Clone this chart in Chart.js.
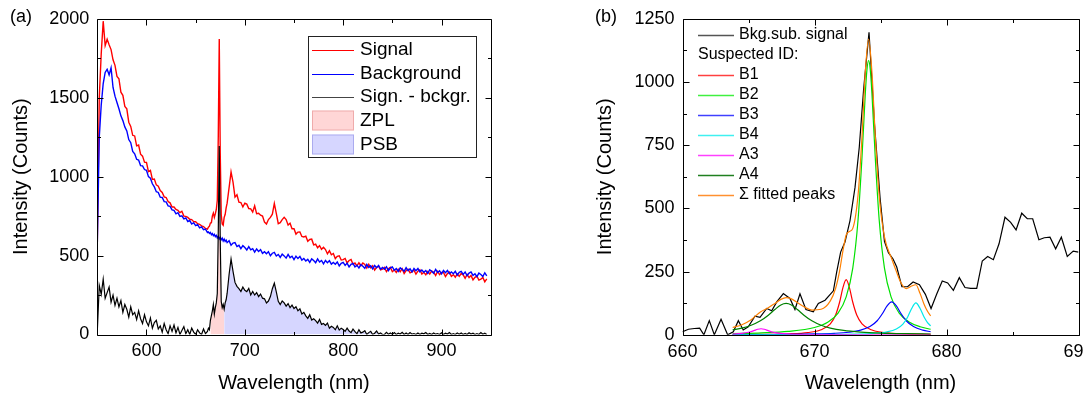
<!DOCTYPE html>
<html>
<head>
<meta charset="utf-8">
<script src="https://cdn.jsdelivr.net/npm/chart.js@4.4.1/dist/chart.umd.min.js"></script>
<style>
  html, body { margin: 0; padding: 0; overflow: hidden; background: #fff; }
  #wrap { position: relative; width: 1100px; height: 398px; }
  #chartA { position: absolute; left: 0; top: 0; }
  #chartB { position: absolute; left: 540px; top: 0; }
</style>
</head>
<body>
<div id="wrap">
  <canvas id="chartA" width="540" height="398"></canvas>
  <canvas id="chartB" width="560" height="398"></canvas>
</div>
<script>
// ---- panel (a): full spectra ----
const wavelengthA = [
  550, 552, 554, 556, 558, 560, 562, 564, 566, 568,
  570, 572, 574, 576, 578, 580, 582, 584, 586, 588,
  590, 592, 594, 596, 598, 600, 602, 604, 606, 608,
  610, 612, 614, 616, 618, 620, 622, 624, 626, 628,
  630, 632, 634, 636, 638, 640, 642, 644, 646, 648,
  650, 652, 654, 656, 658, 660, 662,
  663, 664, 665, 666, 667, 668, 669, 670, 671, 672,
  673, 674, 675, 676, 677, 678, 679, 680, 681,
  682, 684, 686, 688, 690, 692, 694, 696, 698, 700,
  702, 704, 706, 708, 710, 712, 714, 716, 718, 720,
  722, 724, 726, 728, 730, 732, 734, 736, 738, 740,
  742, 744, 746, 748, 750, 752, 754, 756, 758, 760,
  762, 764, 766, 768, 770, 772, 774, 776, 778, 780,
  782, 784, 786, 788, 790, 792, 794, 796, 798, 800,
  802, 804, 806, 808, 810, 812, 814, 816, 818, 820,
  822, 824, 826, 828, 830, 832, 834, 836, 838, 840,
  842, 844, 846, 848, 850, 852, 854, 856, 858, 860,
  862, 864, 866, 868, 870, 872, 874, 876, 878, 880,
  882, 884, 886, 888, 890, 892, 894, 896, 898, 900,
  902, 904, 906, 908, 910, 912, 914, 916, 918, 920,
  922, 924, 926, 928, 930, 932, 934, 936, 938, 940,
  942, 944, 946
];
const signalA = [
  570, 1500, 1780, 1985, 1830, 1870, 1835, 1805, 1740, 1705,
  1635, 1620, 1535, 1515, 1445, 1430, 1345, 1318, 1262, 1258,
  1195, 1200, 1142, 1130, 1092, 1090, 1032, 1040, 982, 985,
  948, 940, 912, 900, 872, 868, 842, 834, 808, 808,
  792, 786, 772, 781, 750, 748, 742, 730, 728, 715,
  714, 702, 698, 688, 684, 672, 668,
  680, 686, 706, 708, 752, 770, 742, 765, 792, 850,
  1250, 1872, 1150, 760, 700, 692, 742, 760, 802,
  832, 930, 1030, 965, 870, 885, 838, 836, 808, 832,
  826, 798, 796, 776, 815, 766, 768, 756, 750, 712,
  700, 728, 742, 762, 830, 768, 702, 708, 728, 742,
  728, 693, 705, 670, 670, 636, 649, 650, 621, 618,
  623, 590, 602, 604, 568, 572, 549, 563, 540, 552,
  538, 511, 531, 505, 513, 481, 495, 499, 472, 474,
  482, 453, 469, 475, 445, 453, 435, 454, 436, 453,
  444, 421, 445, 423, 436, 408, 426, 433, 409, 414,
  425, 398, 416, 425, 398, 409, 393, 414, 398, 417,
  386, 405, 413, 390, 396, 408, 382, 401, 410, 383,
  394, 378, 399, 383, 402, 395, 374, 400, 379, 393,
  393, 367, 386, 395, 368, 379, 363, 384, 368, 386,
  378, 356, 381, 361, 374, 346, 362, 369, 345, 350,
  361, 334, 352
];
const backgroundA = [
  570, 1250, 1455, 1590, 1660, 1680, 1645, 1690, 1565, 1510,
  1470, 1430, 1385, 1355, 1315, 1290, 1235, 1215, 1160, 1145,
  1110, 1105, 1070, 1068, 1045, 1040, 1000, 990, 955, 935,
  905, 900, 870, 868, 842, 840, 815, 812, 790, 786,
  765, 772, 748, 752, 732, 738, 716, 722, 700, 708,
  690, 696, 676, 682, 664, 668, 646,
  650, 640, 646, 632, 640, 626, 634, 620, 628, 612,
  622, 606, 616, 600, 610, 592, 604, 590, 598,
  582, 594, 565, 579, 582, 557, 565, 544, 563, 551,
  535, 557, 536, 544, 522, 542, 526, 538, 514, 524,
  511, 525, 499, 515, 520, 497, 507, 488, 509, 498,
  484, 507, 487, 496, 475, 496, 481, 494, 471, 481,
  466, 476, 457, 479, 469, 455, 479, 459, 469, 448,
  469, 455, 468, 446, 456, 445, 459, 435, 451, 457,
  438, 452, 428, 445, 451, 428, 439, 421, 443, 433,
  420, 444, 425, 435, 415, 437, 423, 437, 414, 425,
  414, 429, 405, 422, 428, 407, 418, 400, 422, 413,
  400, 424, 405, 416, 396, 418, 404, 418, 397, 408,
  394, 405, 387, 410, 401, 388, 412, 393, 404, 384,
  406, 392, 406, 385, 396, 385, 400, 376, 394, 400,
  381, 396, 372, 389, 396, 374, 385, 367, 389, 380,
  367, 391, 372
];
const differenceA = [
  20, 310, 255, 350, 230, 265, 300, 205, 250, 185,
  230, 175, 215, 140, 190, 160, 110, 175, 125, 140,
  95, 150, 100, 70, 125, 80, 55, 105, 40, 75,
  90, 35, 55, 15, 70, 30, 5, 55, 20, 60,
  10, 45, 0, 25, 50, 5, 30, 0, 40, 15,
  0, 30, 10, 0, 35, 5, 20,
  40, 30, 90, 120, 150, 190, 130, 170, 200, 260,
  650, 1194, 600, 210, 170, 190, 160, 200, 220,
  260, 380, 478, 400, 330, 305, 290, 272, 300, 280,
  272, 292, 250, 272, 250, 266, 240, 256, 230, 226,
  200, 212, 240, 290, 325, 270, 210, 190, 212, 200,
  180, 196, 170, 186, 165, 176, 150, 162, 130, 140,
  118, 102, 125, 92, 100, 88, 72, 95, 64, 70,
  58, 72, 40, 52, 45, 30, 55, 28, 40, 32,
  20, 40, 22, 12, 34, 18, 5, 30, 10, 15,
  24, 0, 12, 20, 0, 8, 22, 3, 10, 0,
  0, 14, 2, 10, 0, 12, 0, 8, 3, 14,
  0, 9, 0, 12, 2, 6, 0, 10, 0, 8,
  4, 12, 0, 7, 0, 10, 2, 6, 0, 11,
  0, 8, 3, 12, 0, 6, 0, 9, 2, 10,
  0, 7, 0, 11, 3, 8, 0, 6, 0, 12,
  2, 8, 0
];
const zplRange = [665, 679];
const psbRange = [679, 840];
const xTicksA = [600, 700, 800, 900];
const xMinorA = [650, 750, 850];
const yTicksA = [0, 500, 1000, 1500, 2000];
const yMinorA = [250, 750, 1250, 1750];

// ---- panel (b): zoom on the ZPL with fitted peaks ----
const wavelengthB = [
  660.00, 660.45, 660.90, 661.30, 661.62, 662.03, 662.41, 662.92, 663.42, 663.85,
  664.23, 664.60, 664.98, 665.49, 665.87, 666.38, 666.76, 667.14, 667.64, 668.14,
  668.52, 668.90, 669.35, 669.91, 670.29, 670.80, 671.43, 671.68, 671.98, 672.31,
  672.69, 673.07, 673.39, 673.72, 674.13, 674.55, 674.97, 675.30, 675.60, 675.95,
  676.23, 676.62, 677.05, 677.47, 677.95, 678.40, 678.83, 679.26, 679.68, 680.09,
  680.52, 680.97, 681.40, 681.83, 682.29, 682.71, 683.12, 683.55, 683.98, 684.43,
  684.86, 685.27, 685.70, 686.12, 686.53, 687.00, 687.41, 687.84, 688.27, 688.70,
  689.15, 689.60, 690.00
];
const bkgSubB = [
  12, 22, 25, 26, 0, 56, 0, 61, 0, 12,
  56, 19, 32, 74, 69, 104, 95, 130, 163, 144,
  100, 162, 100, 91, 124, 137, 174, 248, 327, 367,
  452, 583, 741, 970, 1197, 830, 540, 370, 325, 300,
  268, 190, 190, 209, 198, 160, 104, 161, 213, 205,
  176, 226, 187, 184, 184, 292, 310, 297, 360, 465,
  445, 415, 481, 459, 459, 376, 384, 386, 340, 386,
  310, 331, 327
];
const b1X = [663.8, 666, 668, 669.5, 670.5, 671.2, 671.6, 671.9, 672.15, 672.4, 672.65, 672.9, 673.2, 673.6, 674.3, 675.3, 676.8, 678.8];
const b1Y = [1.1, 1.9, 4.0, 8.9, 19.8, 43.6, 78.5, 128.7, 185.7, 218, 185.7, 128.7, 78.5, 43.6, 19.8, 8.9, 4.0, 1.9];
const b2X = [663.8, 666, 668, 670, 671, 671.8, 672.4, 672.9, 673.3, 673.6, 673.85, 673.98, 674.1, 674.22, 674.35, 674.6, 674.9, 675.3, 675.8, 676.4, 677.2, 678, 678.8];
const b2Y = [4.7, 7.6, 13.3, 29, 49.8, 87, 150, 264, 455, 704, 956, 1052, 1085, 1052, 956, 704, 455, 264, 150, 87, 50, 32, 22];
const b3X = [663.8, 666, 668, 670, 671.5, 672.6, 673.5, 674.2, 674.75, 675.15, 675.5, 675.85, 676.2, 676.55, 676.95, 677.5, 678.2, 678.8];
const b3Y = [0.8, 1.2, 1.9, 3.3, 5.9, 10.2, 18.3, 32.4, 55.6, 84.2, 114.4, 130, 114.4, 84.2, 55.6, 32.4, 18.3, 12.2];
const b4X = [663.8, 668, 671, 673, 674.5, 675.5, 676.2, 676.7, 677.05, 677.35, 677.68, 678.0, 678.3, 678.55, 678.8];
const b4Y = [0.3, 0.7, 1.4, 2.8, 5.8, 11.8, 23, 42.6, 69.6, 103, 126, 104, 70.6, 49.5, 35.4];
const a3X = [663.8, 664.5, 665.0, 665.4, 665.7, 665.95, 666.2, 666.5, 666.9, 667.4, 668.5, 671, 675, 678.8];
const a3Y = [2.9, 5.6, 10, 16.3, 21.9, 24, 21.9, 16.3, 10, 5.6, 2.1, 0.6, 0.2, 0.1];
const a4X = [663.8, 664.5, 665.2, 665.9, 666.5, 667.0, 667.45, 667.85, 668.25, 668.7, 669.2, 669.8, 670.5, 671.2, 672.2, 673.5, 675, 677, 678.8];
const a4Y = [19.5, 26.6, 37.7, 55.3, 77.7, 100.3, 117.9, 124, 117.9, 100.3, 77.7, 55.3, 37.7, 26.6, 17.3, 10.9, 7, 4.4, 3.1];
const sumX = [663.8, 664.5, 665.2, 665.9, 666.5, 667.0, 667.45, 667.85, 668.25, 668.7, 669.2, 669.8, 670.5, 671.2, 671.6, 671.9, 672.15, 672.4, 672.65, 672.9, 673.3, 673.6, 673.85, 674.1, 674.35, 674.6, 674.9, 675.3, 675.85, 676.2, 676.55, 676.95, 677.35, 677.68, 678.0, 678.3, 678.55, 678.8];
const sumY = [29, 40, 60, 90, 107, 124, 140, 147, 142, 128, 111, 98, 101, 134, 184, 252, 331, 395, 409, 421, 553, 785, 1040, 1170, 1040, 790, 550, 387, 301, 251, 206, 183, 193, 198, 163, 121, 94, 75];
const xTicksB = [660, 670, 680, 690];
const xMinorB = [665, 675, 685];
const yTicksB = [0, 250, 500, 750, 1000, 1250];
const yMinorB = [125, 375, 625, 875, 1125];

const FONT = "'Liberation Sans', Arial, Helvetica, sans-serif";
Chart.defaults.font.family = FONT;
Chart.defaults.color = '#000';

const pts = (xs, ys) => xs.map((x, i) => ({ x: x, y: ys[i] }));
const band = (xs, ys, r) => pts(xs, ys).filter(p => p.x >= r[0] && p.x <= r[1]);

// frame with inward ticks on all sides, legend and panel letter
const framePlugin = {
  id: 'frame',
  afterDraw(chart, args, o) {
    const { ctx, chartArea: a } = chart;
    const x = chart.scales.x, y = chart.scales.y;
    const L = Math.round(a.left) + 0.5, R = Math.round(a.right) + 0.5;
    const T = Math.round(a.top) + 0.5, B = Math.round(a.bottom) + 0.5;
    ctx.save();
    ctx.strokeStyle = '#000';
    ctx.lineWidth = 1;
    ctx.beginPath();
    ctx.rect(L, T, R - L, B - T);
    const xt = (vals, len) => vals.forEach(v => {
      const p = Math.round(x.getPixelForValue(v)) + 0.5;
      ctx.moveTo(p, B); ctx.lineTo(p, B - len);
      ctx.moveTo(p, T); ctx.lineTo(p, T + len);
    });
    const yt = (vals, len) => vals.forEach(v => {
      const p = Math.round(y.getPixelForValue(v)) + 0.5;
      ctx.moveTo(L, p); ctx.lineTo(L + len, p);
      ctx.moveTo(R, p); ctx.lineTo(R - len, p);
    });
    xt(o.xMajor, 6); xt(o.xMinor, 3.5);
    yt(o.yMajor, 6); yt(o.yMinor, 3.5);
    ctx.stroke();

    // panel letter
    ctx.fillStyle = '#000';
    ctx.font = '18px ' + FONT;
    ctx.textAlign = 'left';
    ctx.textBaseline = 'middle';
    ctx.fillText(o.label, o.labelX, 17);

    // legend
    const lg = o.legend;
    if (lg.box) {
      ctx.fillStyle = '#fff';
      ctx.fillRect(lg.box[0], lg.box[1], lg.box[2], lg.box[3]);
      ctx.strokeStyle = '#222';
      ctx.lineWidth = 1;
      ctx.strokeRect(lg.box[0] + 0.5, lg.box[1] + 0.5, lg.box[2], lg.box[3]);
    }
    ctx.font = lg.size + 'px ' + FONT;
    lg.items.forEach(it => {
      if (it.kind === 'line') {
        ctx.strokeStyle = it.color;
        ctx.lineWidth = lg.lineWidth;
        ctx.beginPath();
        ctx.moveTo(lg.x0, Math.round(it.y) + 0.5);
        ctx.lineTo(lg.x1, Math.round(it.y) + 0.5);
        ctx.stroke();
      } else if (it.kind === 'box') {
        ctx.fillStyle = it.fill;
        ctx.fillRect(lg.x0, it.y - 10, lg.x1 - lg.x0, 20);
        ctx.strokeStyle = it.stroke;
        ctx.lineWidth = 1;
        ctx.strokeRect(lg.x0 + 0.5, it.y - 10 + 0.5, lg.x1 - lg.x0 - 1, 19);
      }
      ctx.fillStyle = '#000';
      ctx.fillText(it.text, it.kind === 'text' ? lg.x0 : lg.tx, it.y);
    });
    ctx.restore();
  }
};

function axes(cfg) {
  return {
    x: {
      type: 'linear', min: cfg.xMin, max: cfg.xMax,
      grid: { display: false, drawTicks: false }, border: { display: false },
      afterBuildTicks: s => { s.ticks = cfg.xTicks.map(v => ({ value: v })); },
      afterFit: s => { s.height = cfg.xHeight; },
      ticks: { padding: 6, font: { size: 18 }, color: '#000', maxRotation: 0, autoSkip: false, callback: v => String(v) },
      title: { display: true, text: 'Wavelength (nm)', font: { size: 20 }, color: '#000', padding: { top: 0, bottom: 3 } }
    },
    y: {
      type: 'linear', min: cfg.yMin, max: cfg.yMax,
      grid: { display: false, drawTicks: false }, border: { display: false },
      afterBuildTicks: s => { s.ticks = cfg.yTicks.map(v => ({ value: v })); },
      afterFit: s => { s.width = cfg.yWidth; },
      ticks: { padding: 8, font: { size: 18 }, color: '#000', autoSkip: false, callback: v => String(v) },
      title: { display: true, text: 'Intensity (Counts)', font: { size: 20 }, color: '#000', padding: { top: cfg.yTitlePad, bottom: 0 } }
    }
  };
}

const common = { responsive: false, animation: false, devicePixelRatio: 1, events: [] };

new Chart(document.getElementById('chartA'), {
  type: 'line',
  data: {
    datasets: [
      { label: 'Sign. - bckgr.', data: pts(wavelengthA, differenceA), borderColor: '#000', borderWidth: 1.2, pointRadius: 0, fill: false, order: 1 },
      { label: 'Background', data: pts(wavelengthA, backgroundA), borderColor: '#0000ff', borderWidth: 1.4, pointRadius: 0, fill: false, order: 2 },
      { label: 'Signal', data: pts(wavelengthA, signalA), borderColor: '#ff0000', borderWidth: 1.4, pointRadius: 0, fill: false, order: 3 },
      { label: 'ZPL', data: band(wavelengthA, differenceA, zplRange), borderWidth: 0, borderColor: 'rgba(0,0,0,0)', backgroundColor: 'rgba(255,0,0,0.16)', pointRadius: 0, fill: 'origin', order: 4 },
      { label: 'PSB', data: band(wavelengthA, differenceA, psbRange), borderWidth: 0, borderColor: 'rgba(0,0,0,0)', backgroundColor: 'rgba(0,0,255,0.16)', pointRadius: 0, fill: 'origin', order: 5 }
    ]
  },
  options: Object.assign({}, common, {
    layout: { padding: { left: 0, top: 17, right: 49.3, bottom: 0 } },
    plugins: {
      legend: { display: false }, tooltip: { enabled: false },
      frame: {
        xMajor: xTicksA, xMinor: xMinorA, yMajor: yTicksA, yMinor: yMinorA,
        label: '(a)', labelX: 10,
        legend: {
          box: [308, 36, 168, 121], size: 19, x0: 312, x1: 354, tx: 360, lineWidth: 1,
          items: [
            { kind: 'line', color: '#ff0000', y: 50, text: 'Signal' },
            { kind: 'line', color: '#0000ff', y: 73.5, text: 'Background' },
            { kind: 'line', color: '#444', y: 97, text: 'Sign. - bckgr.' },
            { kind: 'box', fill: 'rgba(255,0,0,0.16)', stroke: 'rgba(220,120,120,0.45)', y: 120.5, text: 'ZPL' },
            { kind: 'box', fill: 'rgba(0,0,255,0.16)', stroke: 'rgba(120,120,220,0.45)', y: 144.5, text: 'PSB' }
          ]
        }
      }
    },
    scales: axes({ xMin: 550, xMax: 950, xTicks: xTicksA, xHeight: 63.5, yMin: 0, yMax: 2000, yTicks: yTicksA, yWidth: 97.3, yTitlePad: 9 })
  }),
  plugins: [framePlugin]
});

const fitLine = (label, xs, ys, color, order) => ({
  label: label, data: pts(xs, ys), borderColor: color, borderWidth: 1.2, pointRadius: 0,
  fill: false, cubicInterpolationMode: 'monotone', order: order
});

new Chart(document.getElementById('chartB'), {
  type: 'line',
  data: {
    datasets: [
      fitLine('Σ fitted peaks', sumX, sumY, '#ff8000', 1),
      fitLine('A4', a4X, a4Y, '#008000', 2),
      fitLine('A3', a3X, a3Y, '#ff00ff', 3),
      fitLine('B4', b4X, b4Y, '#00e8e8', 4),
      fitLine('B3', b3X, b3Y, '#0000ff', 5),
      fitLine('B2', b2X, b2Y, '#00e000', 6),
      fitLine('B1', b1X, b1Y, '#ff0000', 7),
      { label: 'Bkg.sub. signal', data: pts(wavelengthB, bkgSubB), borderColor: '#000', borderWidth: 1.2, pointRadius: 0, fill: false, order: 8 }
    ]
  },
  options: Object.assign({}, common, {
    layout: { padding: { left: 0, top: 17, right: 21.5, bottom: 0 } },
    plugins: {
      legend: { display: false }, tooltip: { enabled: false },
      frame: {
        xMajor: xTicksB, xMinor: xMinorB, yMajor: yTicksB, yMinor: yMinorB,
        label: '(b)', labelX: 55,
        legend: {
          box: null, size: 16, x0: 158, x1: 194, tx: 199, lineWidth: 1.5,
          items: [
            { kind: 'line', color: '#555', y: 34.5, text: 'Bkg.sub. signal' },
            { kind: 'text', y: 54.5, text: 'Suspected ID:' },
            { kind: 'line', color: '#ff4040', y: 74.5, text: 'B1' },
            { kind: 'line', color: '#40f040', y: 94.5, text: 'B2' },
            { kind: 'line', color: '#4040ff', y: 114.5, text: 'B3' },
            { kind: 'line', color: '#40f0f0', y: 134.5, text: 'B4' },
            { kind: 'line', color: '#ff40ff', y: 154.5, text: 'A3' },
            { kind: 'line', color: '#208020', y: 174.5, text: 'A4' },
            { kind: 'line', color: '#ff9030', y: 194.5, text: 'Σ fitted peaks' }
          ]
        }
      }
    },
    scales: axes({ xMin: 660, xMax: 690, xTicks: xTicksB, xHeight: 63.2, yMin: 0, yMax: 1250, yTicks: yTicksB, yWidth: 142.5, yTitlePad: 53.5 })
  }),
  plugins: [framePlugin]
});
</script>
</body>
</html>
